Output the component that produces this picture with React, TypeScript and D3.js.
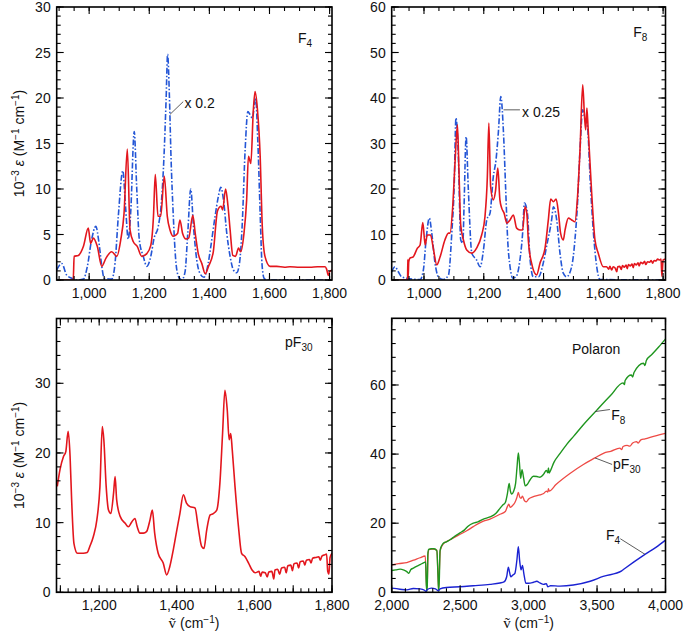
import React from 'react';
import * as d3 from 'd3';

type Pt = [number, number];

// ---------------- data ----------------
// Panel a: F4 (red = polaron IR, blue = neutral x0.2)
const f4Polaron: Pt[] = [
  [892, 0], [942, 0], [947, 0], [950, 2.6], [964, 2.7], [981, 3.7], [997, 5.7], [1005, 4.0], [1014, 4.6], [1027, 3.7],
  [1042, 1.5], [1056, 2.4], [1075, 3.1], [1092, 2.6], [1105, 4.4], [1116, 7.3], [1127, 14.4], [1136, 5.5], [1147, 4.2],
  [1160, 3.7], [1175, 2.6], [1192, 2.9], [1205, 3.8], [1214, 7.0], [1220, 11.6], [1229, 7.0], [1238, 7.0], [1250, 11.4],
  [1260, 7.0], [1269, 5.5], [1280, 4.8], [1294, 5.1], [1302, 6.6], [1311, 5.1], [1322, 4.5], [1331, 4.6], [1345, 7.1],
  [1353, 5.1], [1363, 2.9], [1375, 1.8], [1386, 0.7], [1397, 1.5], [1413, 3.1], [1427, 7.6], [1439, 8.1], [1444, 7.7],
  [1454, 10.0], [1462, 8.1], [1469, 5.5], [1478, 2.7], [1487, 2.6], [1497, 3.5], [1504, 3.1], [1515, 5.1], [1524, 8.8],
  [1530, 13.6], [1538, 12.8], [1546, 18.5], [1552, 20.7], [1560, 18.7], [1569, 13.6], [1576, 5.9], [1585, 2.6],
  [1602, 1.5], [1624, 1.5], [1650, 1.4], [1668, 1.45], [1700, 1.4], [1735, 1.4], [1760, 1.45], [1785, 1.45],
  [1790, 1.2], [1796, 0.5], [1800, 0.9], [1808, 1.1],
];
const f4Neutral: Pt[] = [
  [892, 1.1], [909, 1.8], [925, 0.55], [942, 0.2], [961, 0], [981, 0.1], [994, 1.5], [1008, 4.4], [1022, 5.9], [1033, 4.0],
  [1042, 1.5], [1050, 0.2], [1075, 0.1], [1086, 1.8], [1097, 7.0], [1112, 12.0], [1121, 8.1], [1130, 4.5], [1138, 7.3],
  [1150, 16.3], [1158, 10.3], [1167, 4.4], [1180, 2.6], [1192, 1.5], [1205, 2.6], [1216, 4.6], [1230, 5.9], [1241, 8.8],
  [1249, 13.6], [1256, 19.8], [1261, 24.8], [1267, 20.2], [1272, 13.9], [1280, 7.0], [1288, 2.2], [1297, 0.4], [1308, 0],
  [1319, 0.9], [1328, 5.1], [1338, 10.0], [1347, 5.9], [1358, 2.2], [1369, 0.7], [1382, 0.3], [1393, 1.3], [1404, 3.5],
  [1419, 7.0], [1430, 9.2], [1438, 10.2], [1447, 8.8], [1458, 5.1], [1469, 2.6], [1480, 1.1], [1491, 0.8], [1500, 1.8],
  [1509, 5.9], [1519, 14.3], [1528, 18.5], [1535, 18.2], [1543, 17.8], [1554, 20.0], [1561, 15.4], [1569, 7.3],
  [1575, 1.8], [1582, 0.2], [1591, 0], [1808, 0],
];

// Panel b: F8
const f8Polaron: Pt[] = [
  [892, 0], [942, 0], [945, 0], [946, 4.5], [947, 0.5], [949, 4.0], [953, 4.8], [964, 5.1], [978, 7.0], [987, 7.7],
  [996, 12.6], [1004, 7.7], [1011, 9.9], [1022, 9.9], [1031, 7.0], [1043, 3.3], [1054, 5.1], [1070, 8.8], [1082, 10.3],
  [1087, 10.3], [1096, 16.0], [1104, 26.0], [1112, 34.1], [1117, 24.0], [1123, 12.0], [1132, 8.8], [1143, 6.6],
  [1160, 5.9], [1176, 7.0], [1193, 9.9], [1204, 13.9], [1212, 22.7], [1217, 34.5], [1223, 20.5], [1232, 17.6],
  [1239, 19.4], [1247, 24.6], [1254, 17.6], [1260, 15.8], [1268, 14.7], [1277, 12.5], [1288, 13.2], [1299, 14.3],
  [1310, 11.4], [1321, 11.0], [1330, 11.0], [1338, 16.1], [1344, 14.7], [1349, 8.8], [1360, 3.7], [1377, 1.1],
  [1388, 3.7], [1405, 7.0], [1416, 13.2], [1424, 17.8], [1433, 17.2], [1442, 17.8], [1450, 14.7], [1457, 10.3],
  [1466, 8.8], [1472, 11.0], [1483, 13.6], [1494, 13.2], [1505, 12.8], [1513, 17.6], [1522, 28.6], [1531, 42.9],
  [1537, 36.0], [1541, 33.0], [1545, 37.8], [1549, 33.5], [1561, 19.1], [1572, 8.8], [1583, 5.9], [1600, 2.9],
  [1611, 2.9], [1618, 2.4], [1622, 3.0], [1628, 2.2], [1633, 2.9], [1640, 2.6], [1645, 1.8], [1648, 2.9], [1655, 3.0],
  [1660, 2.3], [1664, 3.2], [1670, 2.8], [1676, 3.3], [1680, 2.5], [1684, 3.4], [1690, 3.1], [1696, 3.5], [1700, 2.7],
  [1704, 3.6], [1710, 3.3], [1716, 3.8], [1720, 3.1], [1725, 3.9], [1732, 3.6], [1738, 4.1], [1742, 3.4], [1748, 4.0],
  [1755, 3.9], [1760, 4.3], [1765, 3.7], [1770, 4.3], [1776, 4.2], [1782, 4.6], [1788, 4.4], [1793, 4.6], [1796, 0.8],
  [1800, 4.4], [1808, 4.6],
];
const f8Neutral: Pt[] = [
  [892, 1.8], [903, 2.9], [914, 1.8], [925, 0.7], [942, 0.4], [987, 0.1], [998, 2.2], [1007, 8.8], [1018, 13.6],
  [1026, 10.3], [1037, 3.7], [1048, 0.7], [1065, 0.1], [1082, 1.1], [1093, 10.3], [1101, 20.5], [1107, 35.6],
  [1115, 27.1], [1123, 8.8], [1130, 8.1], [1134, 16.1], [1141, 31.5], [1148, 20.5], [1160, 5.9], [1176, 4.4],
  [1188, 2.9], [1199, 6.6], [1210, 13.2], [1221, 14.7], [1232, 22.7], [1241, 26.4], [1249, 32.6], [1257, 40.3],
  [1266, 32.3], [1273, 20.5], [1280, 8.8], [1288, 2.9], [1297, 0.4], [1308, 0.7], [1321, 4.4], [1330, 10.3],
  [1336, 16.9], [1346, 14.7], [1355, 4.4], [1366, 0.7], [1383, 0.7], [1399, 3.7], [1411, 7.7], [1427, 13.2],
  [1433, 16.1], [1444, 13.2], [1455, 5.9], [1466, 1.5], [1477, 0.7], [1494, 2.9], [1505, 8.8], [1513, 16.1],
  [1522, 28.6], [1531, 37.4], [1539, 35.2], [1547, 33.7], [1556, 22.0], [1567, 10.3], [1578, 2.9], [1589, 0.1],
  [1808, 0],
];

// Panel c: pF30
const pf30Polaron: Pt[] = [
  [1092, 15.2], [1099, 17.6], [1108, 19.5], [1114, 20.2], [1120, 23.1], [1125, 19.5], [1129, 13.3], [1135, 7.0],
  [1144, 5.6], [1159, 5.6], [1169, 5.7], [1176, 6.6], [1185, 8.0], [1194, 10.4], [1202, 15.2], [1208, 23.8],
  [1212, 21.9], [1218, 15.2], [1224, 11.8], [1230, 11.3], [1237, 14.2], [1241, 16.6], [1245, 13.3], [1254, 10.9],
  [1267, 9.9], [1275, 9.4], [1284, 10.1], [1292, 10.6], [1298, 9.4], [1305, 8.5], [1314, 8.5], [1322, 8.7],
  [1331, 10.4], [1337, 11.8], [1343, 8.5], [1352, 5.6], [1365, 4.2], [1374, 2.5], [1382, 3.7], [1391, 6.1],
  [1400, 8.9], [1408, 11.3], [1417, 14.0], [1425, 12.8], [1434, 12.3], [1447, 12.1], [1455, 9.4], [1464, 6.6],
  [1470, 6.3], [1477, 8.9], [1486, 11.1], [1494, 11.3], [1503, 11.8], [1511, 15.6], [1518, 22.8], [1524, 29.0],
  [1530, 26.2], [1535, 21.9], [1539, 22.8], [1543, 20.4], [1550, 15.2], [1559, 9.4], [1567, 5.6], [1576, 5.1],
  [1585, 4.2], [1594, 3.2], [1602, 2.8], [1612, 3.0], [1616, 2.3], [1620, 2.9], [1628, 2.8], [1633, 2.2],
  [1637, 2.9], [1645, 3.0], [1650, 1.9], [1653, 3.2], [1660, 3.3], [1665, 2.6], [1670, 3.5], [1678, 3.6],
  [1682, 2.8], [1686, 3.8], [1694, 3.9], [1698, 3.1], [1702, 4.1], [1710, 4.2], [1714, 3.5], [1718, 4.4],
  [1726, 4.5], [1730, 3.9], [1734, 4.6], [1742, 4.7], [1746, 4.2], [1750, 4.9], [1758, 5.0], [1766, 5.1],
  [1770, 4.6], [1774, 5.2], [1782, 5.4], [1786, 5.5], [1789, 3.0], [1792, 2.6], [1795, 5.0], [1800, 5.6],
];

// Panel d: polaron high-frequency region
const polaronF8: Pt[] = [
  [2000, 6.3], [2030, 6.5], [2061, 6.7], [2090, 6.4], [2110, 6.0], [2125, 5.5], [2140, 6.6], [2158, 7.0], [2185, 7.6],
  [2207, 8.0], [2235, 8.6], [2248, 8.8], [2252, 3.0], [2256, 0.3], [2260, 2.0], [2264, 11.0], [2270, 12.4],
  [2290, 12.6], [2310, 12.6], [2330, 12.0], [2338, 5.0], [2343, 0.2], [2348, 4.0], [2353, 12.0], [2365, 13.5],
  [2377, 14.2], [2400, 14.6], [2426, 15.2], [2460, 16.2], [2499, 17.2], [2530, 18.0], [2560, 19.2], [2596, 20.0],
  [2630, 20.4], [2670, 21.2], [2718, 21.8], [2760, 22.8], [2791, 24.3], [2810, 25.2], [2830, 26.0], [2845, 28.5],
  [2858, 31.5], [2866, 29.5], [2876, 28.4], [2890, 29.2], [2905, 31.5], [2915, 36.0], [2925, 40.3], [2933, 37.5],
  [2942, 33.0], [2952, 35.5], [2962, 33.5], [2975, 30.8], [2990, 31.2], [3010, 32.5], [3035, 33.6], [3060, 33.5],
  [3083, 33.3], [3110, 34.2], [3130, 35.3], [3140, 34.6], [3145, 36.0], [3150, 34.5], [3160, 35.2], [3185, 37.6],
  [3230, 40.2], [3280, 42.9], [3330, 45.2], [3400, 48.5], [3500, 52.8], [3600, 57.0], [3690, 60.6], [3700, 60.1],
  [3705, 61.3], [3750, 62.9], [3760, 62.3], [3770, 63.6], [3840, 66.3], [3850, 65.6], [3860, 67.1], [3900, 68.8],
  [3950, 71.0], [4000, 73.3],
];
const polaronPF30: Pt[] = [
  [2000, 7.9], [2050, 8.3], [2110, 8.6], [2160, 9.3], [2207, 10.0], [2245, 10.5], [2251, 5.0], [2256, 0.8],
  [2261, 4.0], [2266, 11.5], [2275, 12.4], [2300, 12.5], [2330, 12.2], [2338, 5.0], [2343, 0.8], [2348, 6.0],
  [2355, 12.2], [2377, 14.0], [2426, 15.2], [2500, 16.8], [2548, 17.8], [2596, 19.0], [2670, 20.6], [2718, 21.2],
  [2791, 22.6], [2830, 23.4], [2845, 24.8], [2855, 25.5], [2866, 24.6], [2880, 25.0], [2900, 26.0], [2915, 27.5],
  [2925, 28.9], [2935, 27.6], [2945, 27.2], [2955, 27.8], [2970, 26.5], [2985, 26.2], [3000, 27.0], [3035, 27.7],
  [3083, 28.2], [3110, 28.6], [3130, 29.3], [3140, 29.0], [3145, 30.0], [3150, 29.3], [3200, 31.2], [3302, 34.4],
  [3400, 37.0], [3485, 38.9], [3550, 40.3], [3600, 40.8], [3667, 41.7], [3680, 41.3], [3690, 42.2], [3720, 42.5],
  [3740, 42.3], [3760, 43.2], [3789, 43.6], [3800, 43.2], [3820, 44.1], [3850, 44.4], [3920, 45.2], [4000, 46.0],
];
const polaronF4: Pt[] = [
  [2000, 1.2], [2061, 0.9], [2110, 0.7], [2158, 1.1], [2207, 1.0], [2240, 0.6], [2251, 0.2], [2260, 0.8],
  [2290, 1.2], [2320, 1.0], [2341, 0.4], [2353, 1.0], [2400, 1.4], [2499, 1.6], [2596, 1.9], [2718, 2.3],
  [2791, 2.7], [2820, 3.0], [2840, 4.5], [2852, 7.3], [2860, 6.0], [2870, 4.5], [2885, 5.0], [2900, 5.5],
  [2915, 9.5], [2925, 13.2], [2935, 9.0], [2945, 6.5], [2955, 7.8], [2965, 5.5], [2980, 2.6], [3000, 2.6],
  [3035, 2.9], [3060, 3.2], [3083, 2.7], [3110, 2.3], [3130, 2.5], [3140, 1.6], [3160, 1.9], [3229, 1.8],
  [3327, 2.1], [3450, 3.2], [3545, 4.6], [3680, 6.2], [3700, 6.8], [3850, 11.0], [3930, 13.0], [4000, 15.1],
];

// axis ticks
const irXLabels = [1000, 1200, 1400, 1600, 1800];
const f4YLabels = [0, 5, 10, 15, 20, 25, 30];
const f8YLabels = [0, 10, 20, 30, 40, 50, 60];
const pf30XLabels = [1200, 1400, 1600, 1800];
const pf30YLabels = [0, 10, 20, 30];
const polXLabels = [2000, 2500, 3000, 3500, 4000];
const polYLabels = [0, 20, 40, 60];

// ---------------- drawing ----------------
const FONT = 'Liberation Sans, Arial, Helvetica, sans-serif';
const fmt = d3.format(',');

type Scale = d3.ScaleLinear<number, number>;
interface Series { data: Pt[]; color: string; width: number; dash?: string }
interface Frame { x0: number; x1: number; y0: number; y1: number }
interface PanelProps {
  id: string;
  frame: Frame;
  xDomain: [number, number];
  yDomain: [number, number];
  xMajor: number[];
  xMinor: number[];
  yMajor: number[];
  yMinor: number[];
  xLabels: number[];
  yLabels: number[];
  series: Series[];
  extra?: (xs: Scale, ys: Scale) => React.ReactNode;
}

function Panel(p: PanelProps) {
  const { frame: f } = p;
  const xs = d3.scaleLinear().domain(p.xDomain).range([f.x0, f.x1]);
  const ys = d3.scaleLinear().domain(p.yDomain).range([f.y1, f.y0]);
  const line = d3
    .line<Pt>()
    .x((d) => xs(d[0]))
    .y((d) => ys(d[1]))
    .curve(d3.curveMonotoneX);
  const inX = (v: number) => v >= p.xDomain[0] - 1e-6 && v <= p.xDomain[1] + 1e-6;
  const inY = (v: number) => v >= p.yDomain[0] - 1e-6 && v <= p.yDomain[1] + 1e-6;
  const MAJ = 7;
  const MIN = 4;
  const ticks: React.ReactNode[] = [];
  const addX = (vals: number[], len: number, k: string) =>
    vals.filter(inX).forEach((v, i) => {
      const x = xs(v);
      ticks.push(<line key={`${k}b${i}`} x1={x} x2={x} y1={f.y1} y2={f.y1 - len} />);
      ticks.push(<line key={`${k}t${i}`} x1={x} x2={x} y1={f.y0} y2={f.y0 + len} />);
    });
  const addY = (vals: number[], len: number, k: string) =>
    vals.filter(inY).forEach((v, i) => {
      const y = ys(v);
      ticks.push(<line key={`${k}l${i}`} x1={f.x0} x2={f.x0 + len} y1={y} y2={y} />);
      ticks.push(<line key={`${k}r${i}`} x1={f.x1} x2={f.x1 - len} y1={y} y2={y} />);
    });
  addX(p.xMinor, MIN, 'xm');
  addX(p.xMajor, MAJ, 'xM');
  addY(p.yMinor, MIN, 'ym');
  addY(p.yMajor, MAJ, 'yM');

  return (
    <g>
      <defs>
        <clipPath id={`clip-${p.id}`}>
          <rect x={f.x0} y={f.y0} width={f.x1 - f.x0} height={f.y1 - f.y0} />
        </clipPath>
      </defs>
      <g clipPath={`url(#clip-${p.id})`}>
        {p.series.map((s, i) => (
          <path
            key={i}
            d={line(s.data) || ''}
            fill="none"
            stroke={s.color}
            strokeWidth={s.width}
            strokeDasharray={s.dash}
            strokeLinejoin="round"
          />
        ))}
      </g>
      <g stroke="#000" strokeWidth={1.1}>{ticks}</g>
      <rect x={f.x0} y={f.y0} width={f.x1 - f.x0} height={f.y1 - f.y0} fill="none" stroke="#000" strokeWidth={1.6} />
      <g fontFamily={FONT} fontSize={14} fill="#111">
        {p.xLabels.map((v) => (
          <text key={`xl${v}`} x={xs(v)} y={f.y1 + 18} textAnchor="middle">
            {fmt(v)}
          </text>
        ))}
        {p.yLabels.map((v) => (
          <text key={`yl${v}`} x={f.x0 - 6} y={ys(v)} dy="0.36em" textAnchor="end">
            {fmt(v)}
          </text>
        ))}
      </g>
      {p.extra ? p.extra(xs, ys) : null}
    </g>
  );
}

function YTitle({ x, y }: { x: number; y: number }) {
  return (
    <text transform={`translate(${x},${y}) rotate(-90)`} textAnchor="middle" fontFamily={FONT} fontSize={14} fill="#111">
      10<tspan dy={-5} fontSize={10}>−3</tspan>
      <tspan dy={5}> </tspan>
      <tspan fontStyle="italic">ε</tspan>
      <tspan> (M</tspan>
      <tspan dy={-5} fontSize={10}>−1</tspan>
      <tspan dy={5}> cm</tspan>
      <tspan dy={-5} fontSize={10}>−1</tspan>
      <tspan dy={5}>)</tspan>
    </text>
  );
}

function XTitle({ x, y }: { x: number; y: number }) {
  return (
    <text x={x} y={y} textAnchor="middle" fontFamily={FONT} fontSize={14} fill="#111">
      <tspan fontFamily="Liberation Serif, DejaVu Serif, serif" fontSize={15}>ṽ</tspan>
      <tspan> (cm</tspan>
      <tspan dy={-5} fontSize={10}>−1</tspan>
      <tspan dy={5}>)</tspan>
    </text>
  );
}

function Label({ x, y, main, sub }: { x: number; y: number; main: string; sub?: string }) {
  return (
    <text x={x} y={y} fontFamily={FONT} fontSize={14} fill="#111">
      {main}
      {sub ? (
        <tspan dy={4} fontSize={10}>
          {sub}
        </tspan>
      ) : null}
    </text>
  );
}

const RED = '#e3161d';
const BLUE = '#2456d6';
const DASHDOT = '6,2,1.5,2';

export default function App() {
  const irMinor = d3.range(900, 1801, 50);
  const f1: Frame = { x0: 56.7, x1: 332, y0: 7, y1: 280 };
  const f2: Frame = { x0: 391.7, x1: 665.5, y0: 7, y1: 280 };
  const f3: Frame = { x0: 56.5, x1: 332, y0: 318.5, y1: 592.3 };
  const f4: Frame = { x0: 391.7, x1: 665.5, y0: 318.3, y1: 592.3 };
  const irDomain: [number, number] = [892, 1808];

  return (
    <svg
      width={685}
      height={640}
      viewBox="0 0 685 640"
      style={{ position: 'absolute', left: 0, top: 0, background: '#fff' }}
    >
      <rect x={0} y={0} width={685} height={640} fill="#fff" />
      <Panel
        id="a"
        frame={f1}
        xDomain={irDomain}
        yDomain={[0, 30]}
        xMajor={irXLabels}
        xMinor={irMinor}
        yMajor={f4YLabels}
        yMinor={d3.range(0, 31, 1)}
        xLabels={irXLabels}
        yLabels={f4YLabels}
        series={[
          { data: f4Neutral, color: BLUE, width: 1.6, dash: DASHDOT },
          { data: f4Polaron, color: RED, width: 1.6 },
        ]}
        extra={(xs, ys) => (
          <g>
            <line x1={xs(1269)} y1={ys(18.2)} x2={xs(1313)} y2={ys(19.6)} stroke="#333" strokeWidth={0.8} />
            <text x={xs(1317)} y={ys(18.9)} fontFamily={FONT} fontSize={14} fill="#111">x 0.2</text>
            <Label x={xs(1695)} y={ys(26.0)} main="F" sub="4" />
          </g>
        )}
      />
      <Panel
        id="b"
        frame={f2}
        xDomain={irDomain}
        yDomain={[0, 60]}
        xMajor={irXLabels}
        xMinor={irMinor}
        yMajor={f8YLabels}
        yMinor={d3.range(0, 61, 2)}
        xLabels={irXLabels}
        yLabels={f8YLabels}
        series={[
          { data: f8Neutral, color: BLUE, width: 1.6, dash: DASHDOT },
          { data: f8Polaron, color: RED, width: 1.6 },
        ]}
        extra={(xs, ys) => (
          <g>
            <line x1={xs(1266)} y1={ys(37.4)} x2={xs(1321)} y2={ys(37.4)} stroke="#333" strokeWidth={0.8} />
            <text x={xs(1328)} y={ys(35.9)} fontFamily={FONT} fontSize={14} fill="#111">x 0.25</text>
            <Label x={xs(1700)} y={ys(53.5)} main="F" sub="8" />
          </g>
        )}
      />
      <Panel
        id="c"
        frame={f3}
        xDomain={[1090, 1800]}
        yDomain={[0, 39.3]}
        xMajor={d3.range(1100, 1801, 100)}
        xMinor={d3.range(1100, 1801, 20)}
        yMajor={pf30YLabels}
        yMinor={d3.range(0, 40, 2)}
        xLabels={pf30XLabels}
        yLabels={pf30YLabels}
        series={[{ data: pf30Polaron, color: RED, width: 1.6 }]}
        extra={(xs, ys) => (
          <g>
            <Label x={xs(1679)} y={ys(35.2)} main="pF" sub="30" />
          </g>
        )}
      />
      <Panel
        id="d"
        frame={f4}
        xDomain={[2000, 4000]}
        yDomain={[0, 79.3]}
        xMajor={polXLabels}
        xMinor={d3.range(2000, 4001, 100)}
        yMajor={polYLabels}
        yMinor={d3.range(0, 80, 4)}
        xLabels={polXLabels}
        yLabels={polYLabels}
        series={[
          { data: polaronPF30, color: '#ee4a45', width: 1.3 },
          { data: polaronF8, color: '#1f961f', width: 1.4 },
          { data: polaronF4, color: '#1a22d2', width: 1.4 },
        ]}
        extra={(xs, ys) => (
          <g>
            <text x={xs(3317)} y={ys(69.1)} fontFamily={FONT} fontSize={14} fill="#111">Polaron</text>
            <line x1={xs(3485)} y1={ys(52.3)} x2={xs(3594)} y2={ys(52.9)} stroke="#333" strokeWidth={0.8} />
            <Label x={xs(3603)} y={ys(49.8)} main="F" sub="8" />
            <line x1={xs(3485)} y1={ys(38.9)} x2={xs(3610)} y2={ys(37.0)} stroke="#333" strokeWidth={0.8} />
            <Label x={xs(3617)} y={ys(35.8)} main="pF" sub="30" />
            <line x1={xs(3670)} y1={ys(15.5)} x2={xs(3850)} y2={ys(11.0)} stroke="#333" strokeWidth={0.8} />
            <Label x={xs(3565)} y={ys(15.0)} main="F" sub="4" />
          </g>
        )}
      />
      <YTitle x={24} y={143.5} />
      <YTitle x={24} y={455.4} />
      <XTitle x={194} y={628} />
      <XTitle x={528.6} y={628} />
    </svg>
  );
}
